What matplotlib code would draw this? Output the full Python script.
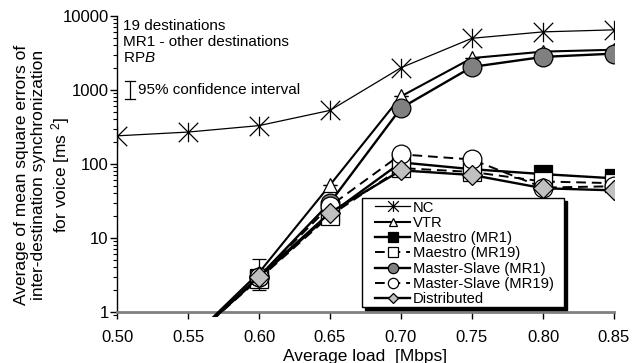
import numpy as np
import matplotlib
matplotlib.use('Agg')
import matplotlib.pyplot as plt
from matplotlib.path import Path
from matplotlib.lines import Line2D
from matplotlib.patches import Rectangle

plt.rcParams['font.family'] = ['Liberation Sans', 'DejaVu Sans']
plt.rcParams['mathtext.fontset'] = 'custom'
plt.rcParams['mathtext.rm'] = 'Liberation Sans'
plt.rcParams['mathtext.it'] = 'Liberation Sans:italic'

# ---------------- data ----------------
load_nc = [0.50, 0.55, 0.60, 0.65, 0.70, 0.75, 0.80, 0.85]
load = [0.55, 0.60, 0.65, 0.70, 0.75, 0.80, 0.85]
nc = [240, 270, 330, 530, 2000, 5000, 6100, 6500]
vtr = [0.4, 3.4, 52, 820, 2700, 3300, 3500]
maestro_mr1 = [0.4, 2.9, 21, 105, 85, 73, 64]
maestro_mr19 = [0.4, 2.8, 20, 88, 78, 58, 55]
ms_mr1 = [0.4, 3.0, 30, 570, 2050, 2800, 3100]
ms_mr19 = [0.4, 3.0, 27, 135, 115, 48, 50]
distributed = [0.4, 3.0, 22, 82, 71, 47, 44]

# confidence intervals (few visible ones)
vtr_err_lo = [0, 1.4, 0, 0, 0, 0, 0]
vtr_err_hi = [0, 1.8, 0, 0, 0, 0, 0]
maestro_err = [0, 0, 0, 0, 0, 22, 18]

series_labels = ['NC', 'VTR', 'Maestro (MR1)', 'Maestro (MR19)',
                 'Master-Slave (MR1)', 'Master-Slave (MR19)', 'Distributed']
xticks = [0.50, 0.55, 0.60, 0.65, 0.70, 0.75, 0.80, 0.85]
yticks = [1, 10, 100, 1000, 10000]

# ---------------- figure ----------------
W, H = 632, 363
fig = plt.figure(figsize=(W / 100, H / 100), dpi=100)
ax_l, ax_r, ax_t, ax_b = 117, 614, 16, 317
ax = fig.add_axes([ax_l / W, 1 - ax_b / H, (ax_r - ax_l) / W, (ax_b - ax_t) / H])
ax.set_yscale('log')
ax.set_xlim(0.50, 0.85)
ax.set_ylim(0.855, 10000)

# asterisk marker
ast = Path([(0, -1), (0, 1), (-1, -1), (1, 1), (-1, 1), (1, -1)],
           [Path.MOVETO, Path.LINETO, Path.MOVETO, Path.LINETO, Path.MOVETO, Path.LINETO])

h_nc, = ax.plot(load_nc, nc, color='black', lw=0.9, marker=ast, ms=14,
                mew=0.9, mfc='none', mec='black', label=series_labels[0], zorder=3)
ax.errorbar(load, vtr, yerr=[vtr_err_lo, vtr_err_hi], fmt='none', ecolor='black',
            elinewidth=0.9, capsize=5, capthick=0.9, zorder=3)
h_vtr, = ax.plot(load, vtr, color='black', lw=1.5, marker='^', ms=10.5,
                 mfc='white', mec='black', mew=0.9, label=series_labels[1], zorder=3)
ax.errorbar(load, maestro_mr1, yerr=maestro_err, fmt='none', ecolor='black',
            elinewidth=0.9, capsize=5, capthick=0.9, zorder=3)
h_m1, = ax.plot(load, maestro_mr1, color='black', lw=1.7, marker='s', ms=12.5,
                mfc='black', mec='black', mew=0.9, label=series_labels[2], zorder=3)
h_m19, = ax.plot(load, maestro_mr19, color='black', lw=1.4, ls=(0, (5, 3)), marker='s', ms=12.5,
                 mfc='white', mec='black', mew=0.9, label=series_labels[3], zorder=3)
h_s1, = ax.plot(load, ms_mr1, color='black', lw=1.7, marker='o', ms=13.5,
                mfc='#808080', mec='black', mew=0.9, label=series_labels[4], zorder=3)
h_s19, = ax.plot(load, ms_mr19, color='black', lw=1.4, ls=(0, (5, 3)), marker='o', ms=13.5,
                 mfc='white', mec='black', mew=0.9, label=series_labels[5], zorder=3)
h_d, = ax.plot(load, distributed, color='black', lw=1.7, marker='D', ms=10,
               mfc='#c0c0c0', mec='black', mew=0.9, label=series_labels[6], zorder=3)

# axes styling
for s in ['top', 'right']:
    ax.spines[s].set_visible(False)
ax.spines['bottom'].set_position(('data', 1))
ax.spines['bottom'].set_color('#808080')
ax.spines['bottom'].set_linewidth(2)
ax.spines['left'].set_bounds(1, 10000)
ax.spines['left'].set_linewidth(1)

ax.set_xticks(xticks)
ax.set_xticklabels([f'{v:.2f}' for v in xticks])
ax.set_yticks(yticks)
ax.set_yticklabels([str(v) for v in yticks])
ax.tick_params(axis='x', direction='out', length=5, width=1, color='black', labelsize=12, pad=8)
ax.tick_params(axis='y', which='major', direction='out', length=5, width=1, labelsize=12, pad=1)
ax.tick_params(axis='y', which='minor', direction='out', length=3, width=0.8)

# legend (manual frame with shadow)
px2ax_x = lambda px: (px - ax_l) / (ax_r - ax_l)
px2ax_y = lambda py: (ax_b - py) / (ax_b - ax_t)
bx0, bx1, by0, by1 = 362, 564, 198, 307
shadow = Rectangle((px2ax_x(bx0 + 3), px2ax_y(by1 + 3)), (bx1 - bx0) / (ax_r - ax_l),
                   (by1 - by0) / (ax_b - ax_t), transform=ax.transAxes,
                   facecolor='black', edgecolor='black', zorder=4.4, clip_on=False)
frame = Rectangle((px2ax_x(bx0), px2ax_y(by1)), (bx1 - bx0) / (ax_r - ax_l),
                  (by1 - by0) / (ax_b - ax_t), transform=ax.transAxes,
                  facecolor='white', edgecolor='black', lw=1, zorder=4.5, clip_on=False)
ax.add_patch(shadow)
ax.add_patch(frame)
leg = ax.legend(handles=[h_nc, h_vtr, h_m1, h_m19, h_s1, h_s19, h_d], labels=series_labels,
                loc='upper left', bbox_to_anchor=(px2ax_x(375), px2ax_y(200.5)),
                frameon=False, fontsize=10.6, labelspacing=0.09, handlelength=2.4,
                handletextpad=0.15, borderpad=0, borderaxespad=0, markerscale=0.55)
leg.set_zorder(5)

# annotations
ax.text(px2ax_x(123), px2ax_y(26), '19 destinations', fontsize=11, va='center', ha='left',
        transform=ax.transAxes)
ax.text(px2ax_x(123), px2ax_y(42), 'MR1 - other destinations', fontsize=11, va='center',
        ha='left', transform=ax.transAxes)
ax.text(px2ax_x(123), px2ax_y(58), 'RP$\\mathit{B}$', fontsize=11, va='center', ha='left',
        transform=ax.transAxes)
ax.text(px2ax_x(138), px2ax_y(90), '95% confidence interval', fontsize=11, va='center',
        ha='left', transform=ax.transAxes)
cx = px2ax_x(130)
ax.add_line(Line2D([cx, cx], [px2ax_y(81), px2ax_y(99)], transform=ax.transAxes,
                   color='black', lw=0.9))
for yy in (81, 99):
    ax.add_line(Line2D([px2ax_x(125.5), px2ax_x(134.5)], [px2ax_y(yy), px2ax_y(yy)],
                       transform=ax.transAxes, color='black', lw=0.9))

# axis labels
fig.text(43 / W, 1 - 175 / H,
         'Average of mean square errors of\ninter-destination synchronization\nfor voice [ms $^{2}$]',
         rotation=90, ha='center', va='center', multialignment='center', fontsize=12.5,
         linespacing=1.2)
fig.text(365 / W, 1 - 361 / H, 'Average load  [Mbps]', ha='center', va='baseline', fontsize=12.5)

fig.savefig('out.png', dpi=100)
